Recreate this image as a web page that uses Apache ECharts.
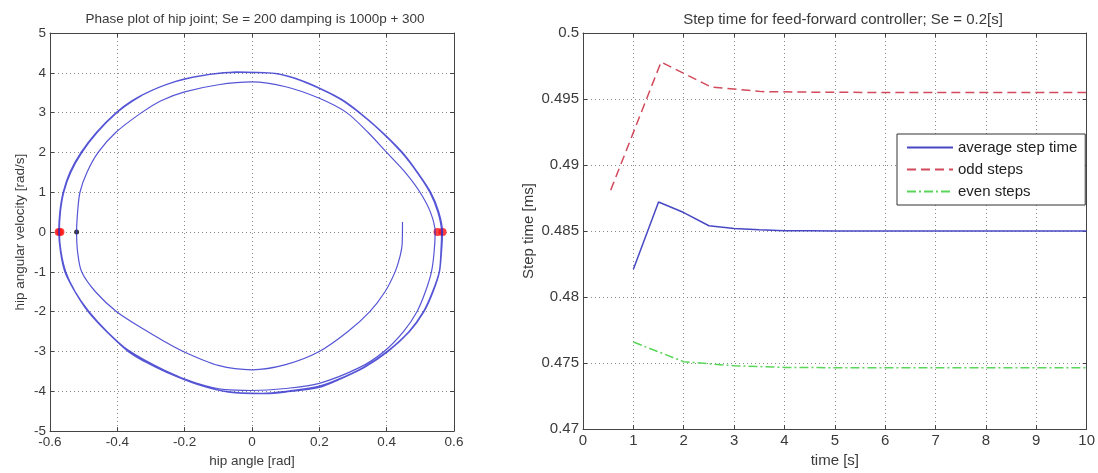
<!DOCTYPE html>
<html>
<head>
<meta charset="utf-8">
<script src="https://cdn.jsdelivr.net/npm/echarts@6/dist/echarts.min.js"></script>
<style>html,body{margin:0;padding:0;background:#fff;}#c{width:1098px;height:473px;}</style>
</head>
<body>
<div id="c"></div>
<script>
// ---------- Left: phase plot data (hip angle [rad], hip angular velocity [rad/s]) ----------
const phaseBottom1 = [[0.447,0.25],[0.446,-0.3],[0.44,-0.6],[0.425,-1],[0.395,-1.5],[0.35,-2],[0.285,-2.5],[0.2,-3],[0.1,-3.33],[0.0,-3.46],[-0.1,-3.35],[-0.204,-3],[-0.27,-2.7],[-0.32,-2.45],[-0.402,-2],[-0.465,-1.5],[-0.506,-1],[-0.518,-0.5],[-0.521,0]];
const phaseTop1 = [[-0.521,0],[-0.518,0.5],[-0.511,1],[-0.49,1.5],[-0.457,2],[-0.405,2.5],[-0.328,3],[-0.27,3.3],[-0.2,3.52],[-0.1,3.7],[0.0,3.77],[0.1,3.65],[0.2,3.36],[0.281,3.0],[0.345,2.5],[0.4,2.0],[0.455,1.5],[0.499,1.0],[0.53,0.5],[0.544,0]];
const phaseBottom2 = [[0.544,0],[0.541,-0.5],[0.533,-1],[0.515,-1.5],[0.49,-2],[0.45,-2.5],[0.392,-3],[0.32,-3.4],[0.2,-3.8],[0.1,-3.93],[0.0,-3.98],[-0.08,-3.96],[-0.17,-3.78],[-0.258,-3.48],[-0.367,-2.97],[-0.43,-2.5],[-0.484,-2],[-0.525,-1.5],[-0.553,-1],[-0.567,-0.5],[-0.572,0]];
const phaseTop2 = [[-0.572,0],[-0.569,0.5],[-0.559,1],[-0.538,1.5],[-0.505,2],[-0.46,2.5],[-0.401,3],[-0.353,3.3],[-0.297,3.56],[-0.22,3.8],[-0.12,3.97],[-0.05,4.02],[0.05,4.0],[0.12,3.88],[0.2,3.61],[0.26,3.35],[0.31,3.05],[0.38,2.55],[0.444,2],[0.49,1.5],[0.528,1],[0.552,0.5],[0.563,0]];
const phaseBottom3 = [[0.563,0],[0.561,-0.5],[0.556,-1],[0.536,-1.5],[0.509,-2],[0.466,-2.5],[0.401,-3],[0.33,-3.4],[0.25,-3.72],[0.2,-3.87],[0.1,-4.0],[0.03,-4.05],[-0.08,-4.0],[-0.17,-3.8],[-0.258,-3.5],[-0.32,-3.24],[-0.367,-3],[-0.43,-2.52],[-0.487,-2],[-0.526,-1.5],[-0.556,-1],[-0.569,-0.5],[-0.574,0]];
const phaseTop3 = [[-0.574,0],[-0.571,0.5],[-0.561,1],[-0.541,1.5],[-0.508,2],[-0.463,2.5],[-0.404,3],[-0.357,3.3],[-0.3,3.55],[-0.223,3.79],[-0.125,3.96],[-0.04,4.01],[0.06,3.99],[0.13,3.86],[0.205,3.6],[0.265,3.34],[0.314,3.04],[0.383,2.54],[0.447,2],[0.492,1.5],[0.531,1],[0.555,0.5],[0.566,0]];
const phaseBottom4 = [[0.566,0],[0.563,-0.5],[0.557,-1],[0.538,-1.5],[0.511,-2],[0.468,-2.5],[0.404,-3],[0.334,-3.4],[0.255,-3.72],[0.2,-3.9],[0.1,-4.02],[0.04,-4.06],[-0.07,-4.02],[-0.165,-3.82],[-0.255,-3.52],[-0.318,-3.26],[-0.365,-3.02],[-0.428,-2.53],[-0.485,-2],[-0.525,-1.5],[-0.555,-1],[-0.568,-0.5],[-0.573,0]];
const phaseTop4 = [[-0.573,0],[-0.57,0.5],[-0.56,1],[-0.54,1.5],[-0.507,2],[-0.462,2.5],[-0.403,3],[-0.355,3.3],[-0.299,3.55],[-0.222,3.8],[-0.122,3.97],[-0.045,4.015],[0.055,3.995],[0.125,3.87],[0.203,3.6],[0.263,3.35],[0.312,3.05],[0.381,2.55],[0.446,2],[0.491,1.5],[0.53,1],[0.554,0.5],[0.565,0]];
const redDots = [[-0.574,0],[-0.569,0],[0.551,0],[0.566,0]];
const blackDots = [[-0.521,0]];

// ---------- Right: step time data ----------
const avgTime = [1,1.5,2,2.5,3,3.5,4,4.5,5,5.5,6,6.5,7,7.5,8,8.5,9,9.5,10];
const avgStep = [0.4821,0.4872,0.4864,0.4854,0.4852,0.4851,0.48503,0.48502,0.48501,0.485,0.485,0.485,0.485,0.485,0.485,0.485,0.485,0.485,0.485];
const oddTime = [0.55,1.55,2.55,3.55,4.55,5.55,6.55,7.55,8.55,9.55,10];
const oddStep = [0.4881,0.4978,0.4959,0.49556,0.49552,0.4955,0.4955,0.4955,0.4955,0.4955,0.4955];
const evenTime = [1,2,3,4,5,6,7,8,9,10];
const evenStep = [0.4766,0.4751,0.4748,0.47467,0.47465,0.47465,0.47465,0.47465,0.47465,0.47465];

const leftTitle = 'Phase plot of hip joint; Se = 200 damping is 1000p + 300';
const rightTitle = 'Step time for feed-forward controller; Se = 0.2[s]';

const phasePath = [].concat(phaseBottom1, phaseTop1.slice(1), phaseBottom2.slice(1), phaseTop2.slice(1),
  phaseBottom3.slice(1), phaseTop3.slice(1), phaseBottom4.slice(1), phaseTop4.slice(1));

const zip = (xs, ys) => xs.map((x, i) => [x, ys[i]]);

const FONT = 'Liberation Sans';
const TXT = '#3a3a3a';
const splitStyle = {show: true, lineStyle: {color: '#8a8a8a', type: [1, 3], width: 1}};
function mainAxis(fs, extra) {
  return Object.assign({
    axisLine: {show: true, onZero: false, lineStyle: {color: '#444', width: 1}},
    axisTick: {show: true, inside: true, length: 4, lineStyle: {color: '#444'}},
    axisLabel: {color: TXT, fontFamily: FONT, fontSize: fs, margin: 4},
    splitLine: splitStyle,
    nameTextStyle: {color: TXT, fontFamily: FONT, fontSize: fs},
    nameLocation: 'middle'
  }, extra);
}
function boxAxis(extra) {
  return Object.assign({
    axisLine: {show: true, onZero: false, lineStyle: {color: '#444', width: 1}},
    axisTick: {show: true, inside: true, length: 4, lineStyle: {color: '#444'}},
    axisLabel: {show: false},
    splitLine: {show: false}
  }, extra);
}
const FL = 13.5, FR = 15;

const chart = echarts.init(document.getElementById('c'), null, {renderer: 'canvas'});
chart.setOption({
  animation: false,
  backgroundColor: '#fff',
  title: [
    {text: leftTitle, left: 250, top: 7, textAlign: 'center',
     textStyle: {fontFamily: FONT, fontSize: FL, fontWeight: 'normal', color: TXT}},
    {text: rightTitle, left: 838, top: 7, textAlign: 'center',
     textStyle: {fontFamily: FONT, fontSize: FR, fontWeight: 'normal', color: TXT}}
  ],
  grid: [
    {left: 50, right: 644, top: 33, bottom: 41, show: false},
    {left: 583, right: 7, top: 33, bottom: 42, show: false}
  ],
  legend: {
    orient: 'vertical', left: 897, top: 134,
    padding: [6, 8, 6, 9], itemGap: 7, itemWidth: 46, itemHeight: 15,
    itemStyle: {opacity: 0},
    backgroundColor: '#fff', borderColor: '#333', borderWidth: 1, borderRadius: 0,
    textStyle: {fontFamily: FONT, fontSize: FR, color: '#222'},
    data: ['average step time', 'odd steps', 'even steps']
  },
  xAxis: [
    mainAxis(FL, {gridIndex: 0, type: 'value', min: -0.6, max: 0.6, interval: 0.2, name: 'hip angle [rad]', nameGap: 20}),
    boxAxis({gridIndex: 0, type: 'value', min: -0.6, max: 0.6, interval: 0.2, position: 'top'}),
    mainAxis(FR, {gridIndex: 1, type: 'value', min: 0, max: 10, interval: 1, name: 'time [s]', nameGap: 23}),
    boxAxis({gridIndex: 1, type: 'value', min: 0, max: 10, interval: 1, position: 'top'})
  ],
  yAxis: [
    mainAxis(FL, {gridIndex: 0, type: 'value', min: -5, max: 5, interval: 1, name: 'hip angular velocity [rad/s]', nameGap: 23}),
    boxAxis({gridIndex: 0, type: 'value', min: -5, max: 5, interval: 1, position: 'right'}),
    mainAxis(FR, {gridIndex: 1, type: 'value', min: 0.47, max: 0.5, interval: 0.005, name: 'Step time [ms]', nameGap: 47}),
    boxAxis({gridIndex: 1, type: 'value', min: 0.47, max: 0.5, interval: 0.005, position: 'right'})
  ],
  series: [
    {type: 'line', name: 'phase', xAxisIndex: 0, yAxisIndex: 0, data: phasePath, smooth: 0.3,
     symbol: 'none', lineStyle: {color: '#2b2bcc', width: 1.2, opacity: 0.8}},
    {type: 'scatter', xAxisIndex: 0, yAxisIndex: 0, data: redDots, symbolSize: 8,
     itemStyle: {color: '#ff1010'}},
    {type: 'scatter', xAxisIndex: 0, yAxisIndex: 0, data: blackDots, symbolSize: 5,
     itemStyle: {color: '#111'}},
    {type: 'line', name: 'average step time', xAxisIndex: 2, yAxisIndex: 2, data: zip(avgTime, avgStep),
     symbol: 'none', lineStyle: {color: '#4848c4', width: 1.5}, itemStyle: {color: '#4848c4'}},
    {type: 'line', name: 'odd steps', xAxisIndex: 2, yAxisIndex: 2, data: zip(oddTime, oddStep),
     symbol: 'none', lineStyle: {color: '#d24a5c', width: 1.5, type: [9, 5]}, itemStyle: {color: '#d24a5c'}},
    {type: 'line', name: 'even steps', xAxisIndex: 2, yAxisIndex: 2, data: zip(evenTime, evenStep),
     symbol: 'none', lineStyle: {color: '#5ad65a', width: 1.5, type: [9, 3, 2, 3]}, itemStyle: {color: '#5ad65a'}}
  ]
});
</script>
</body>
</html>
